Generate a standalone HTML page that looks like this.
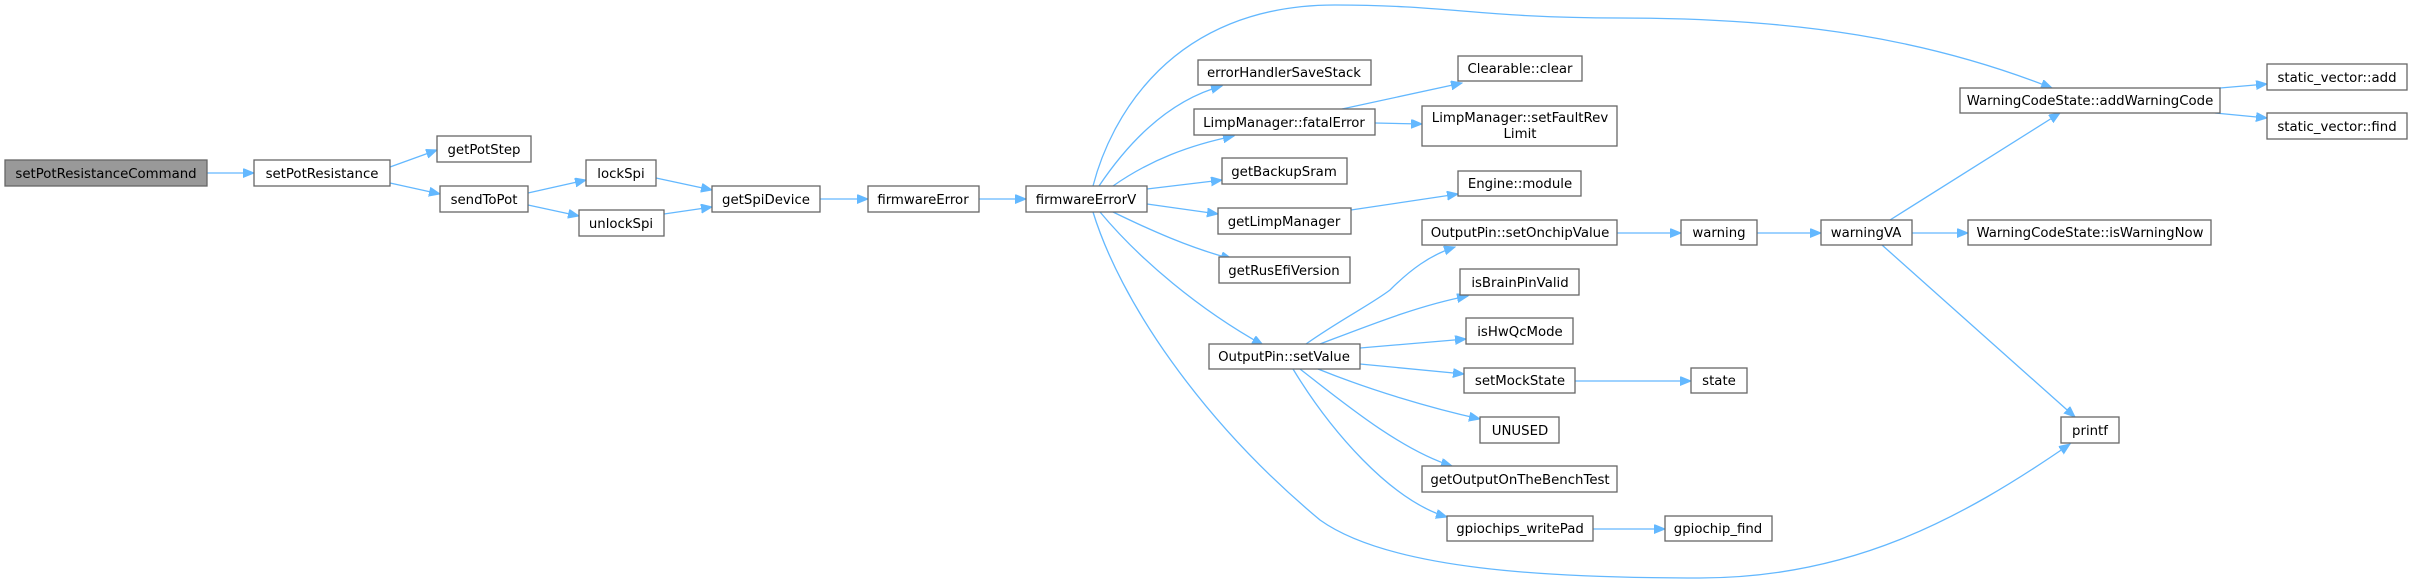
<!DOCTYPE html>
<html><head><meta charset="utf-8"><style>
html,body{margin:0;padding:0;background:#fff;}
svg{display:block;}
text{font-family:"DejaVu Sans","Liberation Sans",sans-serif;font-size:13.3px;fill:#000;text-anchor:middle;}
.b{fill:#fff;stroke:#666;stroke-width:1.3;}
.r{fill:#999;stroke:#666;stroke-width:1.3;}
.e{fill:none;stroke:#63b8ff;stroke-width:1.3;}
</style></head><body>
<svg width="2412" height="585" viewBox="0 0 2412 585" xmlns="http://www.w3.org/2000/svg">
<defs><marker id="a" markerUnits="userSpaceOnUse" markerWidth="12" markerHeight="10" refX="11" refY="4.5" orient="auto"><path d="M0,0 L11,4.5 L0,9 Z" fill="#63b8ff" stroke="#63b8ff"/></marker></defs>
<g marker-end="url(#a)">
<path class="e" d="M207,173 L254,173"/>
<path class="e" d="M390,167 L437,150"/>
<path class="e" d="M390,183 L440,194"/>
<path class="e" d="M528,193 L586,180"/>
<path class="e" d="M528,205 L579,216"/>
<path class="e" d="M656,178 L712,190"/>
<path class="e" d="M664,214 L712,207"/>
<path class="e" d="M820,199 L868,199"/>
<path class="e" d="M979,199 L1026,199"/>
<path class="e" d="M1093,186 C1110,120 1170,5 1335,5 C1450,5 1480,18 1620,18 C1800,18 1930,40 2052,88"/>
<path class="e" d="M1099,186 C1130,140 1170,100 1222,86"/>
<path class="e" d="M1113,186 C1150,160 1190,145 1234,136"/>
<path class="e" d="M1147,189 L1222,180"/>
<path class="e" d="M1147,204 L1218,214"/>
<path class="e" d="M1113,212 C1150,230 1190,248 1232,259"/>
<path class="e" d="M1100,212 C1140,260 1200,310 1263,345"/>
<path class="e" d="M1093,212 C1120,300 1200,420 1320,520 C1390,570 1550,578 1700,578 C1850,578 1960,520 2070,444"/>
<path class="e" d="M1342,109 L1462,83"/>
<path class="e" d="M1375,123 L1422,124"/>
<path class="e" d="M1351,210 L1458,194"/>
<path class="e" d="M1306,344 C1340,320 1370,305 1390,290 C1410,270 1430,255 1455,247"/>
<path class="e" d="M1320,344 C1370,325 1420,305 1468,296"/>
<path class="e" d="M1360,348 L1466,339"/>
<path class="e" d="M1360,364 L1464,374"/>
<path class="e" d="M1318,369 C1370,390 1430,408 1480,419"/>
<path class="e" d="M1300,369 C1340,400 1400,450 1452,466"/>
<path class="e" d="M1293,369 C1330,430 1390,500 1447,517"/>
<path class="e" d="M1617,233 L1681,233"/>
<path class="e" d="M1757,233 L1821,233"/>
<path class="e" d="M1890,220 L2060,113"/>
<path class="e" d="M1912,233 L1968,233"/>
<path class="e" d="M1882,245 L2075,417"/>
<path class="e" d="M2220,88 L2267,84"/>
<path class="e" d="M2215,113 L2267,118"/>
<path class="e" d="M1575,381 L1691,381"/>
<path class="e" d="M1593,529 L1665,529"/>
</g>
<rect class="r" x="5" y="160" width="202" height="26"/><text x="106" y="178">setPotResistanceCommand</text>
<rect class="b" x="254" y="160" width="136" height="26"/><text x="322" y="178">setPotResistance</text>
<rect class="b" x="437" y="136" width="94" height="26"/><text x="484" y="154">getPotStep</text>
<rect class="b" x="440" y="186" width="88" height="26"/><text x="484" y="204">sendToPot</text>
<rect class="b" x="586" y="160" width="70" height="26"/><text x="621" y="178">lockSpi</text>
<rect class="b" x="579" y="210" width="85" height="26"/><text x="621" y="228">unlockSpi</text>
<rect class="b" x="712" y="186" width="108" height="26"/><text x="766" y="204">getSpiDevice</text>
<rect class="b" x="868" y="186" width="111" height="26"/><text x="923" y="204">firmwareError</text>
<rect class="b" x="1026" y="186" width="121" height="26"/><text x="1086" y="204">firmwareErrorV</text>
<rect class="b" x="1198" y="60" width="173" height="25"/><text x="1284" y="77">errorHandlerSaveStack</text>
<rect class="b" x="1194" y="109" width="181" height="26"/><text x="1284" y="127">LimpManager::fatalError</text>
<rect class="b" x="1222" y="158" width="125" height="26"/><text x="1284" y="176">getBackupSram</text>
<rect class="b" x="1218" y="208" width="133" height="26"/><text x="1284" y="226">getLimpManager</text>
<rect class="b" x="1219" y="257" width="131" height="26"/><text x="1284" y="275">getRusEfiVersion</text>
<rect class="b" x="1209" y="344" width="151" height="25"/><text x="1284" y="361">OutputPin::setValue</text>
<rect class="b" x="1458" y="56" width="124" height="25"/><text x="1520" y="73">Clearable::clear</text>
<rect class="b" x="1422" y="106" width="195" height="40"/><text x="1520" y="122">LimpManager::setFaultRev</text><text x="1520" y="138">Limit</text>
<rect class="b" x="1458" y="171" width="123" height="25"/><text x="1520" y="188">Engine::module</text>
<rect class="b" x="1422" y="220" width="195" height="25"/><text x="1520" y="237">OutputPin::setOnchipValue</text>
<rect class="b" x="1681" y="220" width="76" height="25"/><text x="1719" y="237">warning</text>
<rect class="b" x="1460" y="269" width="119" height="26"/><text x="1520" y="287">isBrainPinValid</text>
<rect class="b" x="1466" y="318" width="107" height="26"/><text x="1520" y="336">isHwQcMode</text>
<rect class="b" x="1464" y="368" width="111" height="25"/><text x="1520" y="385">setMockState</text>
<rect class="b" x="1691" y="368" width="56" height="25"/><text x="1719" y="385">state</text>
<rect class="b" x="1480" y="417" width="79" height="26"/><text x="1520" y="435">UNUSED</text>
<rect class="b" x="1422" y="466" width="195" height="26"/><text x="1520" y="484">getOutputOnTheBenchTest</text>
<rect class="b" x="1447" y="516" width="146" height="25"/><text x="1520" y="533">gpiochips_writePad</text>
<rect class="b" x="1665" y="516" width="107" height="25"/><text x="1718" y="533">gpiochip_find</text>
<rect class="b" x="1821" y="220" width="91" height="25"/><text x="1866" y="237">warningVA</text>
<rect class="b" x="1960" y="88" width="260" height="25"/><text x="2090" y="105">WarningCodeState::addWarningCode</text>
<rect class="b" x="1968" y="220" width="243" height="25"/><text x="2090" y="237">WarningCodeState::isWarningNow</text>
<rect class="b" x="2061" y="417" width="58" height="26"/><text x="2090" y="435">printf</text>
<rect class="b" x="2267" y="64" width="140" height="26"/><text x="2337" y="82">static_vector::add</text>
<rect class="b" x="2267" y="113" width="140" height="26"/><text x="2337" y="131">static_vector::find</text>
</svg>
</body></html>
